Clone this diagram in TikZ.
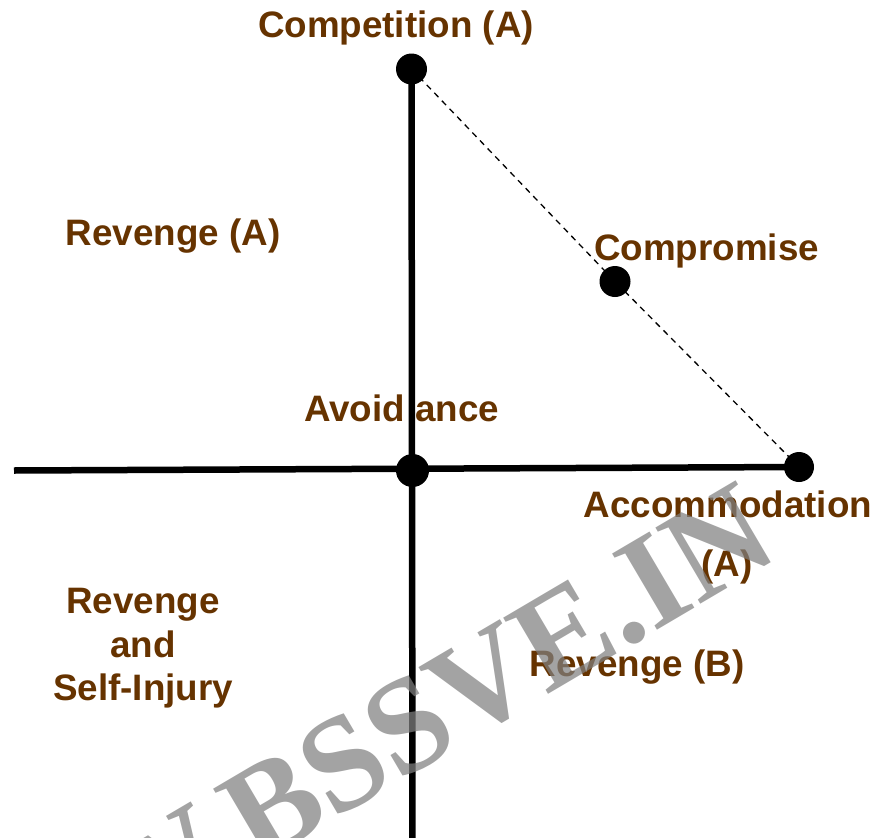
\documentclass[tikz,border=0pt]{standalone}
\usepackage{fontspec}
\setmainfont{Liberation Sans}
\newfontfamily\wmfont{Liberation Serif}
\definecolor{labbrown}{RGB}{102,51,0}
\begin{document}
\begin{tikzpicture}[x=1pt,y=-1pt,
  lab/.style={text=labbrown,font=\fontsize{36.8}{44}\selectfont\bfseries,inner sep=0pt,anchor=base},
  axis/.style={line width=6.5pt,black},
  dotnode/.style={circle,fill=black,minimum size=31pt,inner sep=0pt},
  dashline/.style={line width=1.3pt,dash pattern=on 6pt off 5pt},
  wm/.style={text=black!50,opacity=0.72,font=\wmfont\fontsize{135}{135}\selectfont\bfseries,inner sep=0pt,anchor=base east,rotate=30.5}]
\useasboundingbox (0,0) rectangle (876,838);
\clip (0,0) rectangle (876,838);
% coordinates
\coordinate (ptop) at (411.5,69);
\coordinate (pmid) at (412.5,470.5);
\coordinate (pcomp) at (615,281.5);
\coordinate (pright) at (799,467);
\coordinate (pleft) at (14,470.5);
\coordinate (pbot) at (412.5,845);
% axes and dashed line
\draw[axis] (ptop) -- (pbot);
\draw[axis] (pleft) -- (pright);
\draw[dashline] (ptop) -- (pcomp) -- (pright);
% dots
\node[dotnode] (dtop) at (ptop) {};
\node[dotnode,minimum size=33pt] (dmid) at (pmid) {};
\node[dotnode] (dcomp) at (pcomp) {};
\node[dotnode,minimum size=30pt] (dright) at (pright) {};
% labels
\node[lab] (lcomp) at (396,37) {Competition (A)};
\node[lab] (lrevA) at (173,245) {Revenge (A)};
\node[lab] (lcompro) at (706.5,260) {Compromise};
\node[lab] (lavoid) at (401.5,421) {Avoid ance};
\node[lab] (laccom) at (728,517) {Accommodation};
\node[lab] (laccA) at (727,576) {(A)};
\node[lab] (lrevB) at (637,676) {Revenge (B)};
\node[lab] (lrev1) at (143,613) {Revenge};
\node[lab] (lrev2) at (143,657) {and};
\node[lab] (lrev3) at (143,700) {Self-Injury};
% watermark
\node[wm] (wmark) at (783,556) {WWW.BSSVE.IN};
\end{tikzpicture}
\end{document}
